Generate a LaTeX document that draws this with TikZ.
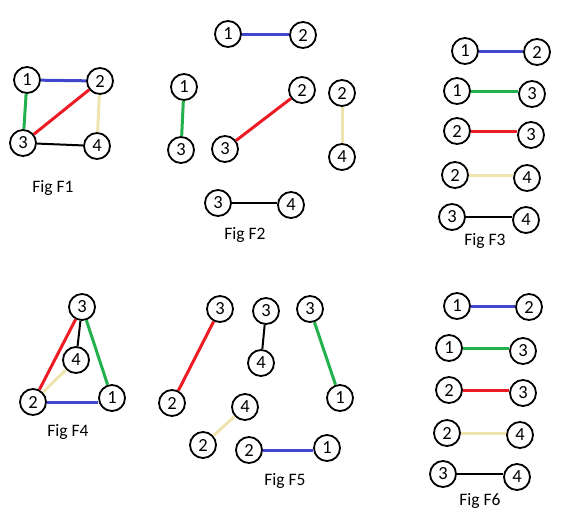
\documentclass[tikz,border=0pt]{standalone}
\usepackage{fontspec}
\setmainfont{Carlito}
\definecolor{eblue}{RGB}{63,72,204}
\definecolor{egreen}{RGB}{34,177,76}
\definecolor{ered}{RGB}{237,28,36}
\definecolor{eyel}{RGB}{239,228,176}
\begin{document}
\begin{tikzpicture}[x=1pt,y=-1pt,
  v/.style={circle,draw=black,line width=1.8pt,minimum size=26pt,inner sep=0pt,font=\fontsize{18.5}{19}\selectfont},
  figcap/.style={font=\fontsize{17.5}{18}\selectfont},
  eb/.style={eblue,line width=3pt},
  eg/.style={egreen,line width=3pt},
  er/.style={ered,line width=3pt},
  ey/.style={eyel,line width=3pt},
  ek/.style={black,line width=2pt}]
\useasboundingbox (0,0) rectangle (575,520);
% F1
\node[v] (a1) at (27,80) {1};
\node[v] (a2) at (100,81) {2};
\node[v] (a3) at (23,143) {3};
\node[v] (a4) at (97,146) {4};
\draw[eb] (a1) -- (a2);
\draw[eg] (a1) -- (a3);
\draw[er] (a3) -- (a2);
\draw[ey] (a2) -- (a4);
\draw[ek] (a3) -- (a4);
\node[figcap] (c1) at (53,188) {Fig F1};
% F2
\node[v] (b1) at (228,34) {1};
\node[v] (b2) at (303,35) {2};
\draw[eb] (b1) -- (b1 -| b2.west);
\node[v] (b3) at (184,87) {1};
\node[v] (b4) at (181,150) {3};
\draw[eg] (b3) -- (b4);
\node[v] (b5) at (302,90) {2};
\node[v] (b6) at (225,149) {3};
\draw[er] (b6) -- (b5);
\node[v] (b7) at (342,93) {2};
\node[v] (b8) at (342,157) {4};
\draw[ey] (b7) -- (b8);
\node[v] (b9) at (218,203) {3};
\node[v] (b10) at (291,205) {4};
\draw[ek] (b9) -- (b9 -| b10.west);
\node[figcap] (c2) at (245,235) {Fig F2};
% F3
\node[v] (d1) at (465,51) {1};
\node[v] (d2) at (537,52) {2};
\draw[eb] (d1) -- (d1 -| d2.west);
\node[v] (d3) at (457,91) {1};
\node[v] (d4) at (532,94) {3};
\draw[eg] (d3) -- (d3 -| d4.west);
\node[v] (d5) at (457,131) {2};
\node[v] (d6) at (531,135) {3};
\draw[er] (d5) -- (d5 -| d6.west);
\node[v] (d7) at (455,175) {2};
\node[v] (d8) at (527,178) {4};
\draw[ey] (d7) -- (d7 -| d8.west);
\node[v] (d9) at (452,217) {3};
\node[v] (d10) at (526,220) {4};
\draw[ek] (d9) -- (d9 -| d10.west);
\node[figcap] (c3) at (485,241) {Fig F3};
% F4
\node[v] (e3) at (82,307) {3};
\node[v] (e4) at (76,360) {4};
\node[v] (e2) at (33,402) {2};
\node[v] (e1) at (112,398) {1};
\draw[er] (e2) -- (e3);
\draw[eg] (e3) -- (e1);
\draw[ek] (e3) -- (e4);
\draw[ey] (e2) -- (e4);
\draw[eb] (e2) -- (e2 -| e1.west);
\node[figcap] (c4) at (68,432) {Fig F4};
% F5
\node[v] (f1) at (220,309) {3};
\node[v] (f2) at (172,403) {2};
\draw[er] (f2) -- (f1);
\node[v] (f3) at (266,311) {3};
\node[v] (f4) at (261,363) {4};
\draw[ek] (f3) -- (f4);
\node[v] (f5) at (310,309) {3};
\node[v] (f6) at (340,398) {1};
\draw[eg] (f5) -- (f6);
\node[v] (f7) at (245,407) {4};
\node[v] (f8) at (203,445) {2};
\draw[ey] (f8) -- (f7);
\node[v] (f9) at (249,450) {2};
\node[v] (f10) at (327,448) {1};
\draw[eb] (f9) -- (f9 -| f10.west);
\node[figcap] (c5) at (285,481) {Fig F5};
% F6
\node[v] (g1) at (457,306) {1};
\node[v] (g2) at (529,307) {2};
\draw[eb] (g1) -- (g1 -| g2.west);
\node[v] (g3) at (449,348) {1};
\node[v] (g4) at (523,351) {3};
\draw[eg] (g3) -- (g3 -| g4.west);
\node[v] (g5) at (449,390) {2};
\node[v] (g6) at (523,393) {3};
\draw[er] (g5) -- (g5 -| g6.west);
\node[v] (g7) at (447,433) {2};
\node[v] (g8) at (520,435) {4};
\draw[ey] (g7) -- (g7 -| g8.west);
\node[v] (g9) at (443,474) {3};
\node[v] (g10) at (517,477) {4};
\draw[ek] (g9) -- (g9 -| g10.west);
\node[figcap] (c6) at (480,501) {Fig F6};
\end{tikzpicture}
\end{document}
